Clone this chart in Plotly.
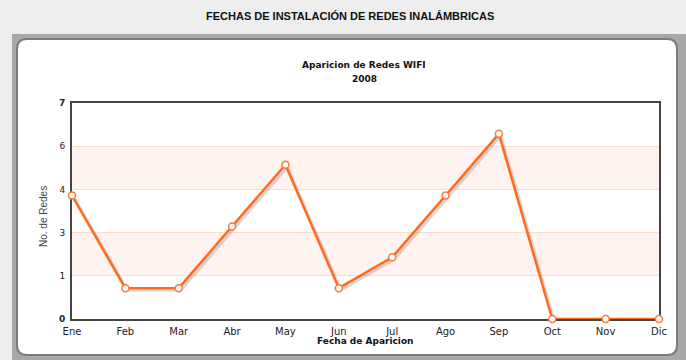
import plotly.graph_objects as go

# Monthly count of newly detected WiFi networks, 2008
meses = ["Ene", "Feb", "Mar", "Abr", "May", "Jun", "Jul", "Ago", "Sep", "Oct", "Nov", "Dic"]
redes = [4, 1, 1, 3, 5, 1, 2, 4, 6, 0, 0, 0]

# y-axis divisions (FusionCharts-style rounding of the labels)
y_divs = [0, 1.4, 2.8, 4.2, 5.6, 7]
y_labels = ["<b>0</b>", "1", "3", "4", "6", "<b>7</b>"]

W, H = 686, 360
L, R, T, B = 72, 659, 103, 319  # plot area in pixels


def px(x):
    return (x - L) / (R - L)


def py(y):
    return (B - y) / (B - T)


def rounded(x0, y0, x1, y1, r):
    rx = r / (R - L)
    ry = r / (B - T)
    a, b, c, d = px(x0), py(y0), px(x1), py(y1)
    return (f"M {a + rx},{b} L {c - rx},{b} Q {c},{b} {c},{b - ry} "
            f"L {c},{d + ry} Q {c},{d} {c - rx},{d} L {a + rx},{d} "
            f"Q {a},{d} {a},{d + ry} L {a},{b - ry} Q {a},{b} {a + rx},{b} Z")


def label(text, x, y, size, family="DejaVu Sans", color="#111", angle=0):
    return dict(text=text, xref="paper", yref="paper", x=px(x), y=py(y),
                xanchor="center", yanchor="middle", showarrow=False,
                textangle=angle, font=dict(family=family, size=size, color=color))


xs = list(range(len(meses)))
dx = 2 * (len(meses) - 1) / (R - L)
dy = 2 * 7 / (B - T)

fig = go.Figure()

# soft drop shadow under the line
fig.add_trace(go.Scatter(
    x=[v + dx for v in xs], y=[v - dy for v in redes], mode="lines",
    line=dict(color="rgba(100,100,100,0.25)", width=3),
    hoverinfo="skip", showlegend=False,
))
fig.add_trace(go.Scatter(
    x=xs, y=redes, mode="lines+markers",
    line=dict(color="#ff6a1c", width=2.5),
    marker=dict(size=7, color="white", line=dict(color="#ff7a38", width=1.5)),
    cliponaxis=False, showlegend=False,
))

shapes = [
    # grey frame and white rounded panel
    dict(type="rect", xref="paper", yref="paper", layer="below",
         x0=px(12), x1=px(686), y0=py(34), y1=py(360),
         fillcolor="#a8a8a8", line=dict(width=0)),
    dict(type="path", xref="paper", yref="paper", layer="below",
         path=rounded(17, 39, 677, 355, 10),
         fillcolor="white", line=dict(color="#7c7c7c", width=2)),
]
# alternating bands
for i in range(1, len(y_divs) - 1, 2):
    shapes.append(dict(type="rect", xref="x", yref="y", layer="below",
                       x0=0, x1=len(meses) - 1, y0=y_divs[i], y1=y_divs[i + 1],
                       fillcolor="#fef3ee", line=dict(width=0)))

annotations = [
    label("<b>FECHAS DE INSTALACIÓN DE REDES INALÁMBRICAS</b>", 350, 16, 11,
          family="Liberation Sans"),
    label("<b>Aparicion de Redes WIFI</b>", 364, 65, 9),
    label("<b>2008</b>", 364, 79, 9),
    label("<b>Fecha de Aparicion</b>", 365, 341, 9),
    label("No. de Redes", 43, 217, 10, family="Liberation Sans", color="#444", angle=-90),
]

fig.update_layout(
    width=W, height=H,
    margin=dict(l=L, r=W - R, t=T, b=H - B),
    paper_bgcolor="#eeeeee", plot_bgcolor="rgba(0,0,0,0)",
    shapes=shapes, annotations=annotations,
    xaxis=dict(range=[0, len(meses) - 1], tickvals=xs, ticktext=meses,
               showgrid=False, zeroline=False, showline=True, mirror=True,
               linecolor="#444", linewidth=2, ticks="", layer="below traces",
               ticklabelstandoff=2,
               tickfont=dict(family="DejaVu Sans", size=10, color="#222")),
    yaxis=dict(range=[0, 7], tickvals=y_divs, ticktext=y_labels,
               showgrid=True, gridcolor="#fddccb", gridwidth=1, zeroline=False,
               showline=True, mirror=True, linecolor="#444", linewidth=2,
               ticks="", layer="below traces", ticklabelstandoff=3,
               tickfont=dict(family="DejaVu Sans", size=9, color="#222")),
)

fig.write_html("out.html")
